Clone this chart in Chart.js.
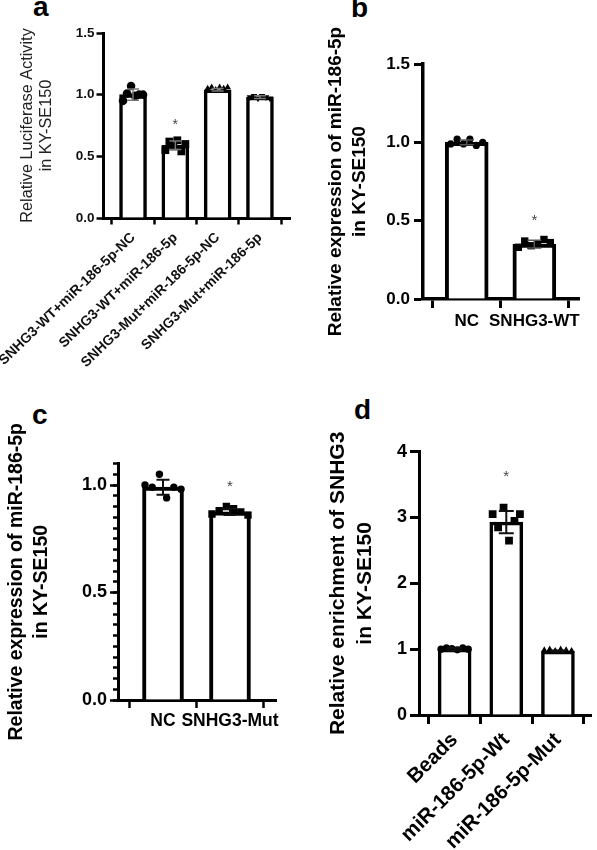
<!DOCTYPE html>
<html><head><meta charset="utf-8">
<script src="https://cdn.jsdelivr.net/npm/chart.js@4.4.1/dist/chart.umd.min.js"></script>
<style>
html,body{margin:0;padding:0;background:#fff;width:597px;height:850px;overflow:hidden;position:relative}
canvas{position:absolute}
.lbl{position:absolute;font:bold 28px "Liberation Sans",Arial,sans-serif;color:#000;line-height:28px}
</style></head><body>
<div class="lbl" style="left:33px;top:-7px">a</div>
<div class="lbl" style="left:351px;top:-6px">b</div>
<div class="lbl" style="left:32px;top:401px">c</div>
<div class="lbl" style="left:354px;top:396px">d</div>
<script>
const F = '"Liberation Sans", Arial, Helvetica, sans-serif';

// ---- Panel a ----
const catsA = ['SNHG3-WT+miR-186-5p-NC','SNHG3-WT+miR-186-5p','SNHG3-Mut+miR-186-5p-NC','SNHG3-Mut+miR-186-5p'];
const meansA = [1.0, 0.59, 1.04, 0.98];
const sdA = [0.045, 0.035, 0.01, 0.012];
const dotsA1 = [0.95, 1.01, 1.07, 0.99, 1.0, 1.0];
const dotsA2 = [0.55, 0.62, 0.58, 0.63, 0.54, 0.60];
const dotsA3 = [1.05, 1.06, 1.04, 1.06, 1.05, 1.06];
const dotsA4 = [0.98, 0.99, 0.97, 0.99, 0.98, 0.97];
const starA = [null, 0.75, null, null];
const yTicksA = [0, 0.5, 1.0, 1.5];

// ---- Panel b ----
const catsB = ['NC','SNHG3-WT'];
const meansB = [1.0, 0.35];
const sdB = [0.015, 0.025];
const dotsB1 = [0.99, 1.02, 0.99, 1.02, 0.98, 1.0];
const dotsB2 = [0.33, 0.37, 0.34, 0.35, 0.38, 0.36];
const starB = [null, 0.5];
const yTicksB = [0, 0.5, 1.0, 1.5];

// ---- Panel c ----
const catsC = ['NC','SNHG3-Mut'];
const meansC = [0.99, 0.875];
const sdC = [0.035, 0.015];
const dotsC1 = [1.0, 0.99, 1.05, 0.94, 0.99, 0.98];
const dotsC2 = [0.865, 0.88, 0.90, 0.89, 0.875, 0.86];
const starC = [null, 0.99];
const yTicksC = [0, 0.5, 1.0];

// ---- Panel d ----
const catsD = ['Beads','miR-186-5p-Wt','miR-186-5p-Mut'];
const meansD = [1.0, 2.93, 0.97];
const sdD = [0.02, 0.17, 0.01];
const dotsD1 = [1.0, 1.02, 1.01, 0.99, 1.02, 1.0];
const dotsD2 = [3.05, 2.85, 3.15, 2.65, 2.95, 3.05];
const dotsD3 = [0.99, 1.0, 0.98, 1.0, 0.99, 0.98];
const starD = [null, 3.62, null];
const yTicksD = [0, 1, 2, 3, 4];

function panel(o){
  const cv = document.createElement('canvas');
  cv.width = o.cvW; cv.height = o.cvH;
  cv.style.left = o.cvLeft + 'px'; cv.style.top = o.cvTop + 'px';
  document.body.appendChild(cv);
  const pxPerUnit = (o.area.r - o.area.l) / (o.xMax - o.xMin);
  const spread = o.spreadPx / pxPerUnit;
  const datasets = [{
    type: 'bar',
    data: o.means.map((m, i) => ({x: i, y: m})),
    backgroundColor: '#fff', borderColor: '#000', borderWidth: o.barBorder,
    borderSkipped: 'start', barThickness: o.barW, order: 3
  }];
  o.dots.forEach((arr, i) => {
    const n = arr.length;
    datasets.push({
      type: 'scatter',
      data: arr.map((v, k) => ({x: i + (n > 1 ? (k / (n - 1) - 0.5) * spread : 0), y: v})),
      pointStyle: o.shapes[i], pointRotation: o.rots[i], pointRadius: o.radii[i],
      pointBackgroundColor: '#000', pointBorderColor: '#000', pointBorderWidth: 0,
      order: 1
    });
  });
  const marks = {
    id: 'marks',
    afterDatasetsDraw(chart){
      const xs = chart.scales.x, ys = chart.scales.y, c = chart.ctx;
      c.save();
      c.strokeStyle = o.errColor; c.lineWidth = o.errW;
      o.means.forEach((m, i) => {
        const sd = o.sds[i];
        const x = xs.getPixelForValue(i);
        const y1 = ys.getPixelForValue(m + sd), y2 = ys.getPixelForValue(m - sd);
        c.beginPath();
        c.moveTo(x, y1); c.lineTo(x, y2);
        c.moveTo(x - o.cap / 2, y1); c.lineTo(x + o.cap / 2, y1);
        c.moveTo(x - o.cap / 2, y2); c.lineTo(x + o.cap / 2, y2);
        c.stroke();
      });
      c.fillStyle = '#444'; c.font = o.starFont; c.textAlign = 'center'; c.textBaseline = 'middle';
      o.stars.forEach((v, i) => { if (v != null) c.fillText('*', xs.getPixelForValue(i), ys.getPixelForValue(v)); });
      c.restore();
    }
  };
  const scales = {
    x: {
      type: 'linear', min: o.xMin, max: o.xMax, offset: false,
      afterBuildTicks: s => { s.ticks = o.cats.map((c, i) => ({value: i})); },
      ticks: {
        callback: v => o.cats[v] !== undefined ? o.cats[v] : '',
        autoSkip: false, maxRotation: o.xRot, minRotation: o.xRot, padding: o.xPad,
        color: o.xColor, font: {family: F, size: o.xFont, weight: 'bold'}
      },
      grid: {display: true, drawOnChartArea: false, drawTicks: true, tickLength: o.tickLen, tickWidth: o.tickW, tickColor: '#000'},
      border: {display: true, color: '#000', width: o.axisW},
      afterFit: s => { s.height = o.cvTop + o.cvH - o.area.b; s.paddingLeft = 0; s.paddingRight = 0; }
    },
    y: {
      type: 'linear', min: 0, max: o.yMax, weight: 1,
      afterBuildTicks: s => { s.ticks = o.yTicks.map(v => ({value: v})); },
      ticks: {
        callback: v => o.yFmt(v), padding: o.yPad,
        color: o.yColor, font: {family: F, size: o.yFont, weight: 'bold'}
      },
      grid: {display: true, drawOnChartArea: false, drawTicks: true, tickLength: o.tickLen, tickWidth: o.tickW, tickColor: '#000'},
      border: {display: true, color: '#000', width: o.axisW},
      title: {
        display: true, text: o.title, color: o.titleColor,
        font: {family: F, size: o.titleSize, weight: o.titleWeight, lineHeight: o.titleLH},
        padding: {top: o.titlePad, bottom: 0}
      },
      afterFit: s => { s.width = o.area.l - o.cvLeft; s.paddingTop = 0; s.paddingBottom = 0; }
    }
  };
  if (o.minorStep) {
    scales.y2 = {
      type: 'linear', position: 'left', min: 0, max: o.yMax, weight: 0,
      ticks: {display: false, stepSize: o.minorStep},
      grid: {display: true, drawOnChartArea: false, drawTicks: true, tickLength: o.minorLen, tickWidth: o.tickW, tickColor: '#000'},
      border: {display: false},
      afterFit: s => { s.width = 0; s.paddingTop = 0; s.paddingBottom = 0; }
    };
  }
  new Chart(cv.getContext('2d'), {
    type: 'bar',
    data: {datasets},
    options: {
      responsive: false, animation: false, events: [],
      layout: {padding: {left: 0, top: o.area.t - o.cvTop, right: o.cvLeft + o.cvW - o.area.r, bottom: 0}},
      plugins: {legend: {display: false}, tooltip: {enabled: false}},
      scales
    },
    plugins: [marks]
  });
}

const fmt1 = v => v.toFixed(1);
const fmt0 = v => String(v);

panel({
  cvLeft: 0, cvTop: 0, cvW: 298, cvH: 400, area: {l: 103, t: 33, r: 290, b: 218},
  cats: catsA, means: meansA, sds: sdA, dots: [dotsA1, dotsA2, dotsA3, dotsA4],
  shapes: ['circle', 'rect', 'triangle', 'triangle'], rots: [0, 0, 0, 180], radii: [4.3, 5.5, 3.8, 3.8],
  stars: starA, yTicks: yTicksA, yMax: 1.5, yFmt: fmt1,
  xMin: -0.71, xMax: 3.71, xRot: 44, xFont: 14, xPad: 5, xColor: '#111',
  yFont: 13.5, yPad: 2, yColor: '#111', tickLen: 6.5, tickW: 2.5, axisW: 3,
  barW: 27, barBorder: 3.5, spreadPx: 20,
  title: ['Relative Luciferase Activity', 'in KY-SE150'], titleSize: 16.3, titleWeight: 'normal', titleLH: 19 / 16.3, titlePad: 18.5, titleColor: '#222',
  errColor: '#777', errW: 1.5, cap: 12, starFont: '14px ' + F
});

panel({
  cvLeft: 300, cvTop: 0, cvW: 297, cvH: 400, area: {l: 423, t: 64, r: 579, b: 299},
  cats: catsB, means: meansB, sds: sdB, dots: [dotsB1, dotsB2],
  shapes: ['circle', 'rect'], rots: [0, 0], radii: [3.6, 5.2],
  stars: starB, yTicks: yTicksB, yMax: 1.5, yFmt: fmt1,
  xMin: -0.646, xMax: 1.66, xRot: 0, xFont: 17, xPad: 3, xColor: '#000',
  yFont: 17, yPad: 4, yColor: '#000', tickLen: 9, tickW: 3, axisW: 3.5,
  barW: 43, barBorder: 4, spreadPx: 32,
  title: ['Relative expression of miR-186-5p', 'in KY-SE150'], titleSize: 19, titleWeight: 'bold', titleLH: 1.25, titlePad: 24, titleColor: '#000',
  errColor: '#555', errW: 1.5, cap: 14, starFont: '15px ' + F
});

panel({
  cvLeft: 0, cvTop: 400, cvW: 298, cvH: 450, area: {l: 118, t: 463.5, r: 276, b: 700},
  cats: catsC, means: meansC, sds: sdC, dots: [dotsC1, dotsC2],
  shapes: ['circle', 'rect'], rots: [0, 0], radii: [3.7, 5.2],
  stars: starC, yTicks: yTicksC, yMax: 1.1, yFmt: fmt1, minorStep: 0.05, minorLen: 5,
  xMin: -0.672, xMax: 1.687, xRot: 0, xFont: 17.5, xPad: 3, xColor: '#000',
  yFont: 18, yPad: 3, yColor: '#000', tickLen: 8, tickW: 2.5, axisW: 3,
  barW: 41, barBorder: 4, spreadPx: 36,
  title: ['Relative expression of miR-186-5p', 'in KY-SE150'], titleSize: 19.5, titleWeight: 'bold', titleLH: 25 / 19.5, titlePad: 4.5, titleColor: '#000',
  errColor: '#111', errW: 2, cap: 13, starFont: '15px ' + F
});

panel({
  cvLeft: 300, cvTop: 400, cvW: 297, cvH: 450, area: {l: 419, t: 451.7, r: 596, b: 715},
  cats: catsD, means: meansD, sds: sdD, dots: [dotsD1, dotsD2, dotsD3],
  shapes: ['circle', 'rect', 'triangle'], rots: [0, 0, 0], radii: [3.6, 5.5, 3.6],
  stars: starD, yTicks: yTicksD, yMax: 4, yFmt: fmt0,
  xMin: -0.69, xMax: 2.65, xRot: 45, xFont: 20.5, xPad: 4, xColor: '#000',
  yFont: 18, yPad: 3, yColor: '#000', tickLen: 9, tickW: 3, axisW: 3,
  barW: 33, barBorder: 3.5, spreadPx: 28,
  title: ['Relative enrichment of SNHG3', 'in KY-SE150'], titleSize: 21, titleWeight: 'bold', titleLH: 27 / 21, titlePad: 24.5, titleColor: '#000',
  errColor: '#111', errW: 2, cap: 15, starFont: '15px ' + F
});
</script>
</body></html>
